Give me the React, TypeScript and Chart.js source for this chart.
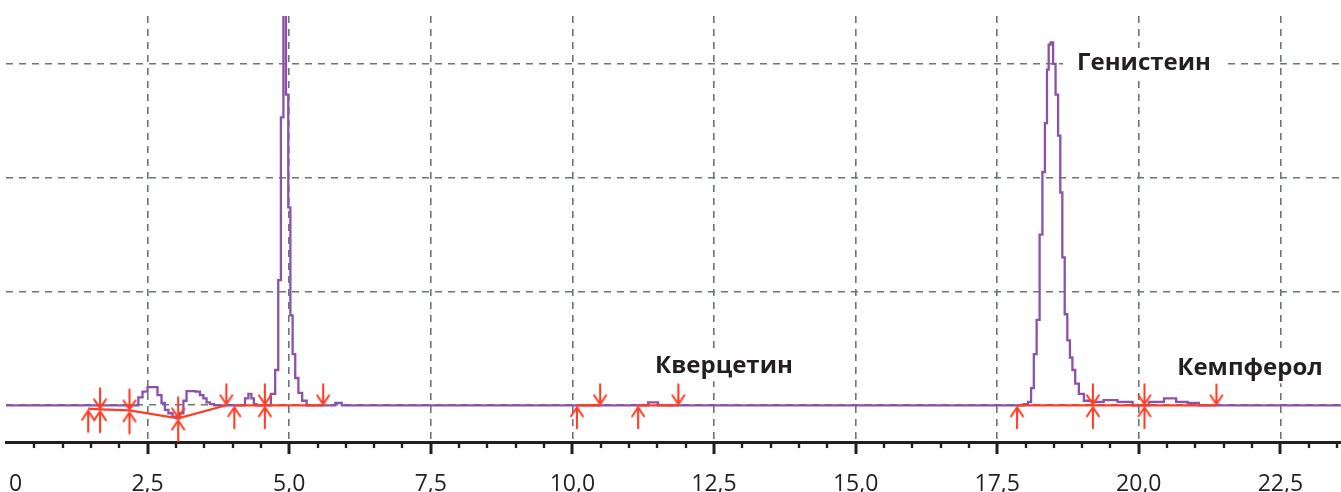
import React, { useEffect, useRef } from 'react';
import { Chart, registerables } from 'chart.js';

Chart.register(...registerables);

// ---- data (retention time, min / detector signal, arbitrary units) ----
const TRACE_TIME = [
  0, 2.308, 2.366, 2.455, 2.543, 2.631, 2.719, 2.772, 2.838, 2.896, 2.984, 3.037, 3.103, 3.161,
  3.214, 3.302, 3.39, 3.456, 3.514, 3.567, 3.638, 3.708,
  4.19, 4.25, 4.309, 4.356, 4.397, 4.45,
  4.627, 4.724, 4.78, 4.833, 4.874, 4.921, 4.966, 5.001, 5.041, 5.08, 5.133, 5.192, 5.266, 5.35,
  5.757, 5.87, 5.986,
  11.25, 11.425, 11.6,
  17.906, 18.02, 18.073, 18.123, 18.17, 18.223, 18.275, 18.322, 18.363, 18.395, 18.423, 18.465,
  18.509, 18.552, 18.598, 18.63, 18.67, 18.714, 18.762, 18.806, 18.85, 18.905, 18.979, 19.082,
  19.27, 19.49, 19.76, 20.02,
  20.34, 20.55, 20.77, 20.95, 21.17,
  23.6,
];
const TRACE_SIGNAL = [
  0, 0, 0.07, 0.12, 0.16, 0.16, 0.09, 0.02, -0.04, -0.07, -0.1, -0.115, -0.07, 0.04,
  0.125, 0.125, 0.12, 0.09, 0.06, 0.025, 0.01, 0,
  0, 0.06, 0.1, 0.06, 0.01, 0,
  0, 0.1, 0.31, 1.1, 2.53, 5.0, 2.73, 1.74, 0.79, 0.45, 0.24, 0.11, 0.04, 0,
  0, 0.02, 0,
  0, 0.025, 0,
  0, 0.01, 0.03, 0.15, 0.45, 0.75, 1.5, 2.05, 2.48, 2.95, 3.17, 3.19,
  3.0, 2.73, 2.37, 1.87, 1.3, 0.8, 0.57, 0.42, 0.31, 0.19, 0.1, 0.04,
  0.03, 0.045, 0.03, 0,
  0.03, 0.06, 0.03, 0.02, 0,
  0,
];

// integration baselines (null = break between peak groups)
const BASE_TIME = [1.45, 1.66, 2.18, 3.04, 3.89, null, 4.03, 4.57, 5.6, null, 10.08, 10.49, null, 11.16, 11.87, null, 17.85, 19.19, 20.1, 21.37];
const BASE_SIGNAL = [-0.03, -0.035, -0.045, -0.115, 0, null, 0, 0, 0, null, 0, 0, null, 0, 0, null, 0, 0, 0, 0];

// peak start (↑) and peak end (↓) markers
const START_TIME = [1.45, 1.66, 2.18, 3.04, 4.03, 4.57, 10.08, 11.16, 17.85, 19.19, 20.1];
const START_SIGNAL = [-0.03, -0.035, -0.045, -0.115, 0, 0, 0, 0, 0, 0, 0];
const END_TIME = [1.66, 2.18, 3.04, 3.89, 4.57, 5.6, 10.49, 11.87, 19.19, 20.1, 21.37];
const END_SIGNAL = [-0.035, -0.045, -0.115, 0, 0, 0, 0, 0, 0, 0, 0];

// peak names
const PEAK_NAMES = ['Кверцетин', 'Генистеин', 'Кемпферол'];
const PEAK_LABEL_TIME = [11.46, 18.91, 20.68];
const PEAK_LABEL_SIGNAL = [0.343, 3.008, 0.325];

// axes
const X_TICKS = [0, 2.5, 5, 7.5, 10, 12.5, 15, 17.5, 20, 22.5];
const X_TICK_LABELS = ['\u2007\u20080', '2,5', '5,0', '7,5', '10,0', '12,5', '15,0', '17,5', '20,0', '22,5'];
const X_MINOR_STEP = 0.5;
const X_MIN = 0;
const X_MAX = 23.57;
const Y_GRID = [0, 1, 2, 3];
const Y_MIN = -0.323;
const Y_MAX = 3.421;

const PURPLE = '#8c52a8';
const RED = '#ff3d24';
const GRID = '#6c7579';
const INK = '#231f20';
const FONT = "'Open Sans', 'Noto Sans', sans-serif";

function makeArrow(dir: 'up' | 'down'): HTMLCanvasElement {
  const c = document.createElement('canvas');
  c.width = 18;
  c.height = 52;
  const g = c.getContext('2d')!;
  g.strokeStyle = RED;
  g.lineWidth = 2.1;
  g.lineCap = 'round';
  g.lineJoin = 'round';
  const cx = 9;
  const cy = 26;
  g.beginPath();
  if (dir === 'up') {
    g.moveTo(cx, cy + 2);
    g.lineTo(cx, cy + 23);
    g.moveTo(cx - 6, cy + 11);
    g.lineTo(cx, cy + 2);
    g.lineTo(cx + 6, cy + 11);
  } else {
    g.moveTo(cx, cy - 21);
    g.lineTo(cx, cy - 1);
    g.moveTo(cx - 6, cy - 10);
    g.lineTo(cx, cy - 1);
    g.lineTo(cx + 6, cy - 10);
  }
  g.stroke();
  return c;
}

const zip = (xs: (number | null)[], ys: (number | null)[]) =>
  xs.map((x, i) => ({ x: x as number, y: ys[i] as number }));

const tickMarksPlugin = {
  id: 'tickMarks',
  afterDraw(chart: any) {
    const xs = chart.scales.x;
    const ctx = chart.ctx;
    const bottom = chart.chartArea.bottom;
    ctx.save();
    ctx.strokeStyle = INK;
    const n = Math.floor((X_MAX - X_MIN) / X_MINOR_STEP + 1e-9);
    for (let i = 1; i <= n; i++) {
      const v = X_MIN + i * X_MINOR_STEP;
      const major = X_TICKS.some((t) => Math.abs(t - v) < 1e-6);
      const px = Math.round(xs.getPixelForValue(v));
      ctx.lineWidth = major ? 3 : 2.4;
      ctx.beginPath();
      ctx.moveTo(px, bottom);
      ctx.lineTo(px, bottom + (major ? 12 : 6));
      ctx.stroke();
    }
    ctx.restore();
  },
};

const peakLabelsPlugin = {
  id: 'peakLabels',
  afterDatasetsDraw(chart: any) {
    const xs = chart.scales.x;
    const ys = chart.scales.y;
    const ctx = chart.ctx;
    ctx.save();
    ctx.font = `bold 24px ${FONT}`;
    ctx.textAlign = 'left';
    ctx.textBaseline = 'middle';
    PEAK_NAMES.forEach((name, i) => {
      const px = xs.getPixelForValue(PEAK_LABEL_TIME[i]);
      const py = ys.getPixelForValue(PEAK_LABEL_SIGNAL[i]);
      const w = ctx.measureText(name).width;
      ctx.fillStyle = '#ffffff';
      ctx.fillRect(px - 14, py - 15, w + 28, 30);
      ctx.fillStyle = INK;
      ctx.fillText(name, px, py);
    });
    ctx.restore();
  },
};

export default function App() {
  const ref = useRef<HTMLCanvasElement | null>(null);

  useEffect(() => {
    document.body.style.margin = '0';
    const canvas = ref.current;
    if (!canvas) return;
    const upArrow = makeArrow('up');
    const downArrow = makeArrow('down');

    const chart = new Chart(canvas, {
      type: 'scatter',
      data: {
        datasets: [
          {
            label: 'start',
            data: zip(START_TIME, START_SIGNAL),
            showLine: false,
            pointStyle: upArrow as any,
            pointRadius: 4,
          },
          {
            label: 'end',
            data: zip(END_TIME, END_SIGNAL),
            showLine: false,
            pointStyle: downArrow as any,
            pointRadius: 4,
          },
          {
            label: 'baseline',
            data: zip(BASE_TIME, BASE_SIGNAL),
            showLine: true,
            spanGaps: false,
            borderColor: RED,
            borderWidth: 2.2,
            pointRadius: 0,
          },
          {
            label: 'signal',
            data: zip(TRACE_TIME, TRACE_SIGNAL),
            showLine: true,
            stepped: 'middle',
            borderColor: PURPLE,
            borderWidth: 2.3,
            pointRadius: 0,
          },
        ],
      },
      options: {
        responsive: false,
        animation: false,
        events: [],
        layout: { autoPadding: false, padding: { top: 16, left: 0, right: 0, bottom: 0 } },
        plugins: { legend: { display: false }, tooltip: { enabled: false } },
        scales: {
          x: {
            type: 'linear',
            min: X_MIN,
            max: X_MAX,
            afterBuildTicks: (scale: any) => {
              scale.ticks = X_TICKS.map((v) => ({ value: v }));
            },
            afterFit: (scale: any) => {
              scale.paddingLeft = 6;
              scale.paddingRight = 0;
            },
            ticks: {
              autoSkip: false,
              maxRotation: 0,
              padding: 0,
              color: INK,
              font: { family: FONT, size: 23, lineHeight: 0.65 },
              callback: (_v: any, i: number) => X_TICK_LABELS[i],
            },
            grid: {
              drawTicks: true,
              tickLength: 35,
              tickColor: 'rgba(0,0,0,0)',
              color: (c: any) => (c.tick && c.tick.value === 0 ? 'rgba(0,0,0,0)' : GRID),
              lineWidth: 1.6,
            },
            border: { display: true, color: INK, width: 3, dash: [7, 6] as any },
          },
          y: {
            type: 'linear',
            min: Y_MIN,
            max: Y_MAX,
            afterBuildTicks: (scale: any) => {
              scale.ticks = Y_GRID.map((v) => ({ value: v }));
            },
            afterFit: (scale: any) => {
              scale.width = 0;
            },
            ticks: { display: false },
            grid: { drawTicks: false, color: GRID, lineWidth: 1.6 },
            border: { display: false, dash: [7, 6] },
          },
        },
      },
      plugins: [tickMarksPlugin, peakLabelsPlugin],
    });
    return () => chart.destroy();
  }, []);

  return (
    <div style={{ width: 1341, height: 492, background: '#fff' }}>
      <canvas ref={ref} width={1341} height={492} style={{ display: 'block' }} />
    </div>
  );
}
